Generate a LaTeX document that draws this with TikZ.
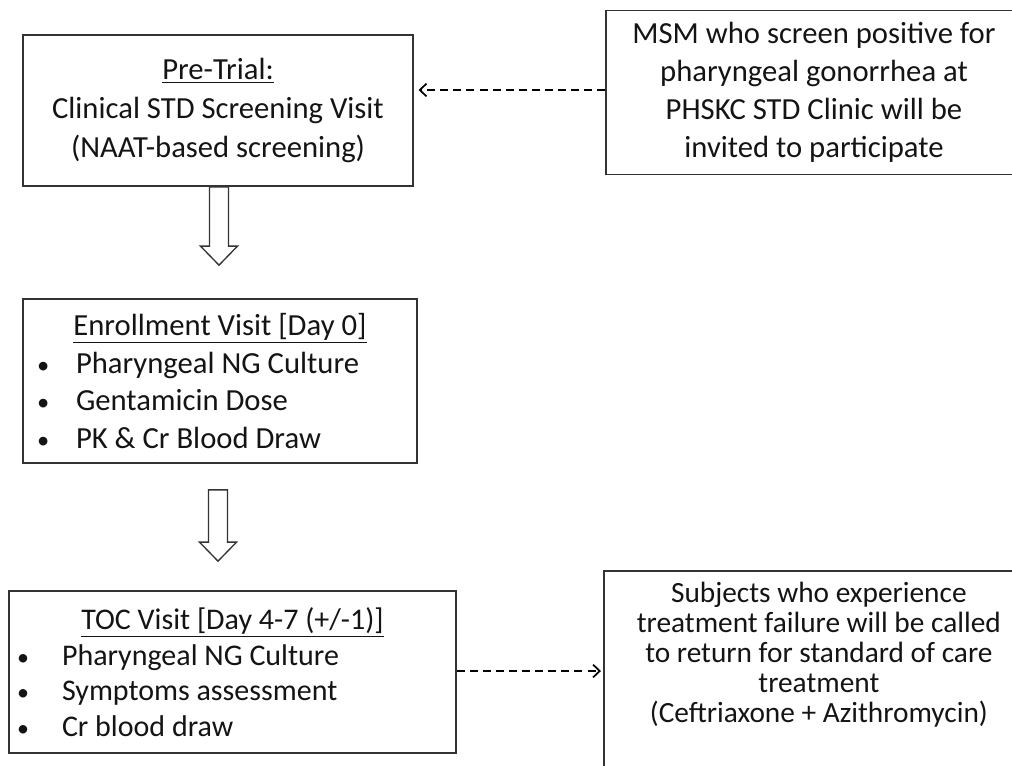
\documentclass[tikz,border=0pt]{standalone}
\usepackage{fontspec}
\setmainfont{Carlito}
\usepackage{tikz}
\usetikzlibrary{positioning, arrows.meta, calc}
\definecolor{cLine}{HTML}{333333}
\definecolor{cText}{HTML}{141414}

\newcommand{\bulletrow}[2]{\makebox[#1][l]{\scalebox{0.8}{\textbullet}}#2}

\begin{document}
\begin{tikzpicture}[x=0.75pt, y=-0.75pt,
    visitbox/.style={draw=cLine, line width=1.3pt, text=cText, align=flush left},
    notebox/.style={draw=cLine, line width=1.3pt, text=cText, align=flush center},
    dashlink/.style={draw=black, line width=1.5pt, dash pattern=on 6pt off 3.8pt,
                     -{Straight Barb[length=5pt, width=9.5pt, line width=1.3pt]}},
    hollowarrow/.style={draw=cLine, line width=1pt, fill=white, line join=miter}]
  \useasboundingbox (0,0) rectangle (1012,765);
  \clip (0,0) rectangle (1012,765);

  % Pre-trial screening visit
  \node[notebox, minimum width=292.5pt, minimum height=113.25pt,
        font=\fontsize{23}{29}\selectfont] (pretrial) at (218,110.5)
       {\underline{Pre-Trial:}\\Clinical STD Screening Visit\\(NAAT-based screening)};
  % Who is invited
  \node[notebox, minimum width=312pt, minimum height=123pt,
        font=\fontsize{23}{28.5}\selectfont] (screen) at (814,92.5)
       {MSM who screen positive for\\pharyngeal gonorrhea at\\PHSKC STD Clinic will be\\invited to participate};

  % Enrollment visit
  \node[visitbox, minimum width=295.5pt, minimum height=123pt, text width=274.5pt,
        font=\fontsize{23}{28.1}\selectfont] (enroll) at (220,381)
       {\makebox[274.5pt]{\underline{Enrollment Visit [Day 0]}}\\
        \bulletrow{29.25pt}{Pharyngeal NG Culture}\\
        \bulletrow{29.25pt}{Gentamicin Dose}\\
        \bulletrow{29.25pt}{PK \& Cr Blood Draw}};

  % Test of cure visit
  \node[visitbox, minimum width=335.25pt, minimum height=121.5pt, text width=323.25pt,
        font=\fontsize{22.5}{26.8}\selectfont] (toc) at (232.5,672)
       {\makebox[323.25pt]{\underline{TOC Visit [Day 4-7 (+/-1)]}}\\
        \bulletrow{33.75pt}{Pharyngeal NG Culture}\\
        \bulletrow{33.75pt}{Symptoms assessment}\\
        \bulletrow{33.75pt}{Cr blood draw}};

  % Treatment failure follow-up
  \node[notebox, anchor=north west, minimum width=322.5pt, text width=300pt,
        inner ysep=8.5pt, text depth=150pt,
        font=\fontsize{22}{22.4}\selectfont] (fail) at (603,570)
       {Subjects who experience\\treatment failure will be called\\to return for standard of care\\treatment\\(Ceftriaxone + Azithromycin)};

  % Dashed links
  \draw[dashlink, shorten >=3.5pt] (screen.west |- 0,90) -- (pretrial.east |- 0,90);
  \draw[dashlink, shorten >=1.5pt] (toc.east |- 0,671) -- (fail.west |- 0,671);

  % Hollow block arrows
  \coordinate (a1top) at ($(pretrial.south)+(1,0)$);
  \coordinate (a1tip) at ($(enroll.north)+(-1,-33)$);
  \coordinate (a2top) at ($(enroll.south)+(-2,26)$);
  \coordinate (a2tip) at ($(toc.north)+(-14.5,-29)$);
  \foreach \s/\t in {a1top/a1tip, a2top/a2tip}
    \draw[hollowarrow] ($(\s)+(-9.5,0)$) -- ($(\s)+(9.5,0)$) -- ($(\t)+(9.5,-19)$)
      -- ($(\t)+(18.5,-19)$) -- (\t) -- ($(\t)+(-18.5,-19)$)
      -- ($(\t)+(-9.5,-19)$) -- cycle;
\end{tikzpicture}
\end{document}
